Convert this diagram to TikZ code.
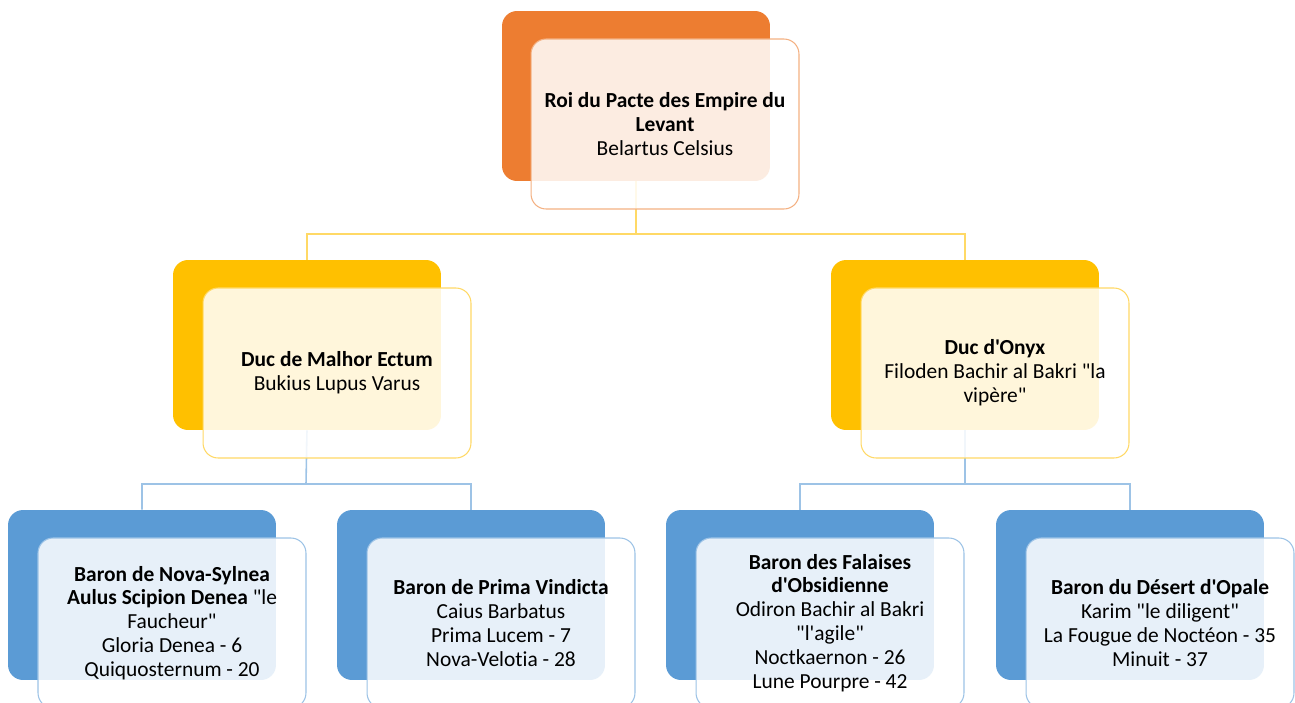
\documentclass[tikz,border=0pt]{standalone}
\usepackage{fontspec}
\setmainfont{Carlito}[Ligatures={TeXOff,NoCommon}]
\definecolor{roiorange}{HTML}{ED7D31}
\definecolor{roiline}{HTML}{F4B183}
\definecolor{ducgold}{HTML}{FFC000}
\definecolor{ducline}{HTML}{FFD966}
\definecolor{baronblue}{HTML}{5B9BD5}
\definecolor{baronline}{HTML}{9DC3E6}

\begin{document}
\begin{tikzpicture}[x=0.02cm, y=-0.02cm,
  backbox/.style={rectangle, rounded corners=0.3cm, minimum width=5.36cm, minimum height=3.4cm, inner sep=0pt},
  frontbox/.style={rectangle, rounded corners=0.3cm, minimum width=5.36cm, minimum height=3.4cm, inner sep=0pt, fill=white, fill opacity=0.86, text opacity=1, line width=0.6pt, align=center, font=\fontsize{12.2}{13.6}\selectfont},
  goldlink/.style={draw=ducline, line width=0.9pt},
  bluelink/.style={draw=baronline, line width=0.9pt}]
\useasboundingbox (0,0) rectangle (1295,703);
\clip (0,0) rectangle (1295,703);
\coordinate (roifork) at (636,234);
\coordinate (malhorfork) at (306,484);
\coordinate (onyxfork) at (965,484);
\node[backbox, fill=roiorange] (roi) at (636,96) {};
\node[backbox, fill=ducgold] (malhor) at (307,345) {};
\node[backbox, fill=ducgold] (onyx) at (965,345) {};
\node[backbox, fill=baronblue] (sylnea) at (142,595) {};
\node[backbox, fill=baronblue] (vindicta) at (471,595) {};
\node[backbox, fill=baronblue] (falaises) at (800,595) {};
\node[backbox, fill=baronblue] (opale) at (1130,595) {};
\draw[goldlink] (roi.south) -- (roifork) -| (malhor.north);
\draw[goldlink] (roifork) -| (onyx.north);
\draw[bluelink] (malhor.south) -- (malhorfork) -| (sylnea.north);
\draw[bluelink] (malhorfork) -| (vindicta.north);
\draw[bluelink] (onyx.south) -- (onyxfork) -| (falaises.north);
\draw[bluelink] (onyxfork) -| (opale.north);
\node[frontbox, draw=roiline] (roitext) at (665,124) {\textbf{Roi du Pacte des Empire du}\\\textbf{Levant}\\Belartus Celsius};
\node[frontbox, draw=ducline] (malhortext) at (337,373) {\textbf{Duc de Malhor Ectum}\\Bukius Lupus Varus};
\node[frontbox, draw=ducline] (onyxtext) at (995,373) {\textbf{Duc d'Onyx}\\Filoden Bachir al Bakri "la\\vipère"};
\node[frontbox, draw=baronline] (sylneatext) at (172,623) {\textbf{Baron de Nova-Sylnea}\\\textbf{Aulus Scipion Denea} "le\\Faucheur"\\Gloria Denea - 6\\Quiquosternum - 20};
\node[frontbox, draw=baronline] (vindictatext) at (501,623) {\textbf{Baron de Prima Vindicta}\\Caius Barbatus\\Prima Lucem - 7\\Nova-Velotia - 28};
\node[frontbox, draw=baronline] (falaisestext) at (830,623) {\textbf{Baron des Falaises}\\\textbf{d'Obsidienne}\\Odiron Bachir al Bakri\\"l'agile"\\Noctkaernon - 26\\Lune Pourpre - 42};
\node[frontbox, draw=baronline] (opaletext) at (1160,623) {\textbf{Baron du Désert d'Opale}\\Karim "le diligent"\\La Fougue de Noctéon - 35\\Minuit - 37};
\end{tikzpicture}
\end{document}
